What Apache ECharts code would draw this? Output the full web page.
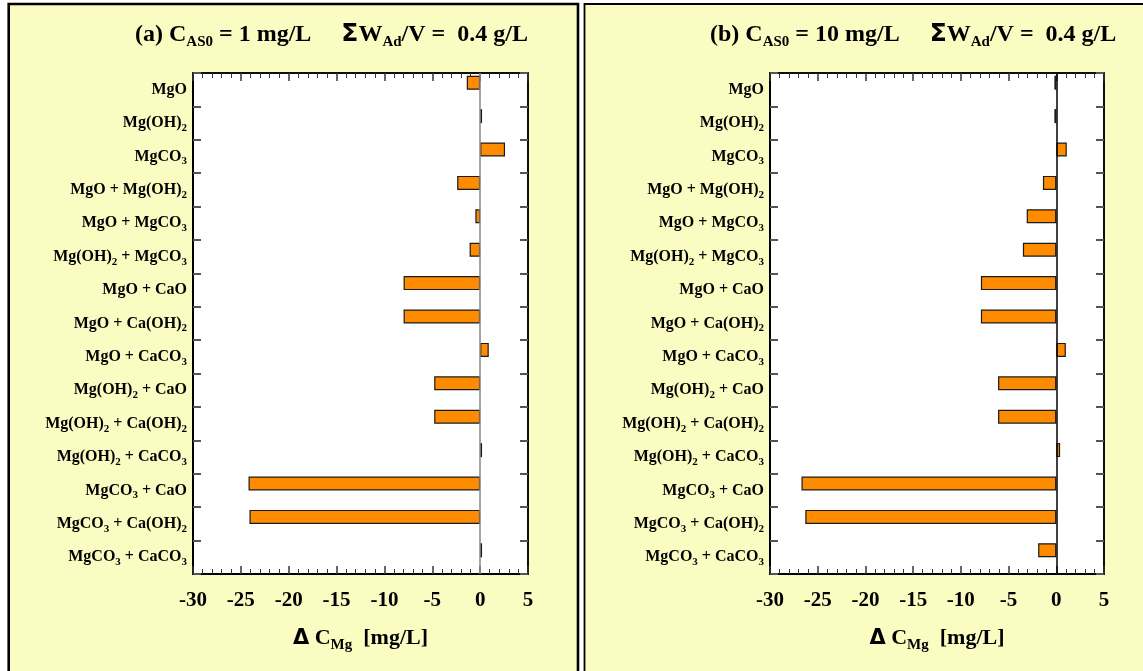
<!DOCTYPE html>
<html><head><meta charset="utf-8">
<script src="https://cdn.jsdelivr.net/npm/echarts@6/dist/echarts.min.js"></script>
<style>html,body{margin:0;padding:0;background:#fff}#c{width:1143px;height:671px}</style>
</head><body><div id="c"></div>
<script>
const categories = ['MgO','Mg(OH)2','MgCO3','MgO + Mg(OH)2','MgO + MgCO3','Mg(OH)2 + MgCO3','MgO + CaO','MgO + Ca(OH)2','MgO + CaCO3','Mg(OH)2 + CaO','Mg(OH)2 + Ca(OH)2','Mg(OH)2 + CaCO3','MgCO3 + CaO','MgCO3 + Ca(OH)2','MgCO3 + CaCO3'];
const deltaA = [-1.4, 0.2, 2.6, -2.4, -0.5, -1.1, -8.0, -8.0, 0.9, -4.8, -4.8, 0.2, -24.2, -24.1, 0.2];
const deltaB = [-0.2, -0.2, 1.1, -1.4, -3.1, -3.5, -7.9, -7.9, 1.0, -6.1, -6.1, 0.4, -26.7, -26.3, -1.9];
const xMin = -30, xMax = 5, xStep = 5;
const titleA = '{m|(a) C}{s|AS0}{m| = 1 mg/L     }{g|Σ}{m|W}{s|Ad}{m|/V =  0.4 g/L}';
const titleB = '{m|(b) C}{s|AS0}{m| = 10 mg/L     }{g|Σ}{m|W}{s|Ad}{m|/V =  0.4 g/L}';
const xName = '{g|Δ}{m| C}{s|Mg}{m|  [mg/L]}';

const SERIF = '"Liberation Serif", "Times New Roman", serif';
function subText(str){
  return str.replace(/([^0-9]+)|([0-9]+)/g, (m,a,b)=> a ? '{m|'+a+'}' : '{s|'+b+'}');
}
const catRich = {
  m:{fontFamily:SERIF,fontWeight:'bold',fontSize:16,color:'#000'},
  s:{fontFamily:SERIF,fontWeight:'bold',fontSize:11,color:'#000',padding:[10,0,0,0]}
};
const titleRich = {
  m:{fontFamily:SERIF,fontWeight:'bold',fontSize:24,color:'#000'},
  s:{fontFamily:SERIF,fontWeight:'bold',fontSize:15,color:'#000',padding:[16,0,0,0]},
  g:{fontFamily:'"DejaVu Sans", sans-serif',fontWeight:'bold',fontSize:25,color:'#000'}
};
const nameRich = {
  m:{fontFamily:SERIF,fontWeight:'bold',fontSize:22,color:'#000'},
  s:{fontFamily:SERIF,fontWeight:'bold',fontSize:15,color:'#000',padding:[14,0,0,0]},
  g:{fontFamily:'"DejaVu Sans", sans-serif',fontWeight:'bold',fontSize:21,color:'#000'}
};

const grids = [
  {left:193, top:73, width:335, height:501, zero:'#888'},
  {left:770, top:73, width:334, height:501, zero:'#000'}
];
const datasets = [deltaA, deltaB];

function xAx(gi, pos){
  return {
    type:'value', gridIndex:gi, position:pos, min:xMin, max:xMax, interval:xStep,
    axisLine:{show:true, onZero:false, lineStyle:{color:'#000', width: pos==='bottom'?2:1.5}},
    axisTick:{show:true, inside:true, length:8, lineStyle:{color:'#333', width:1.5}},
    minorTick:{show:true, splitNumber:5, length:5, lineStyle:{color:'#333', width:1}},
    splitLine:{show:false},
    axisLabel: pos==='bottom' ? {show:true, margin:16, fontFamily:SERIF, fontWeight:'bold', fontSize:21, color:'#000'} : {show:false},
    name: pos==='bottom' ? xName : '',
    nameLocation:'middle', nameGap:50,
    nameTextStyle:{rich:nameRich}
  };
}
function yAx(gi, pos){
  return {
    type:'category', gridIndex:gi, position:pos, data:categories, inverse:true,
    axisLine:{show:true, onZero:false, lineStyle:{color:'#000', width: pos==='left'?2:1.5}},
    axisTick:{show:true, inside:true, length:8, lineStyle:{color:'#555', width:2}},
    splitLine:{show:false},
    axisLabel: pos==='left' ? {show:true, margin:6, formatter:(v)=>subText(v), rich:catRich} : {show:false}
  };
}

const option = {
  animation:false,
  backgroundColor:'#fff',
  graphic:[
    {type:'rect', z:-10, shape:{x:8.7, y:4, width:569.3, height:700}, style:{fill:'#FAFCC2', stroke:'#000', lineWidth:2.6}},
    {type:'rect', z:-10, shape:{x:584.5, y:4, width:600, height:700}, style:{fill:'#FAFCC2', stroke:'#000', lineWidth:1.8}}
  ],
  title:[
    {left:130, top:14, text:titleA, textStyle:{rich:titleRich}},
    {left:705, top:14, text:titleB, textStyle:{rich:titleRich}}
  ],
  grid: grids.map(g=>({left:g.left, top:g.top, width:g.width, height:g.height, show:true, backgroundColor:'#fff', borderColor:'#000', borderWidth:1.5, containLabel:false})),
  xAxis:[xAx(0,'bottom'), xAx(0,'top'), xAx(1,'bottom'), xAx(1,'top')],
  yAxis:[yAx(0,'left'), yAx(0,'right'), yAx(1,'left'), yAx(1,'right')],
  series: [0,1].flatMap(gi=>[
    {
      type:'bar', xAxisIndex:gi*2, yAxisIndex:gi*2, data:datasets[gi],
      barWidth:14, barGap:'0%',
      itemStyle:{color:'#FF8C00', borderColor:'#1a1a1a', borderWidth:1.2},
      markLine:{silent:true, symbol:['none','none'], label:{show:false},
        lineStyle:{color:grids[gi].zero, width:1.5, type:'solid'}, data:[{xAxis:0}]}
    },
    {
      type:'bar', xAxisIndex:gi*2, yAxisIndex:gi*2, data:categories.map(()=>null),
      barWidth:14, barGap:'0%'
    }
  ])
};
const chart = echarts.init(document.getElementById('c'), null, {renderer:'canvas'});
chart.setOption(option);
</script></body></html>
